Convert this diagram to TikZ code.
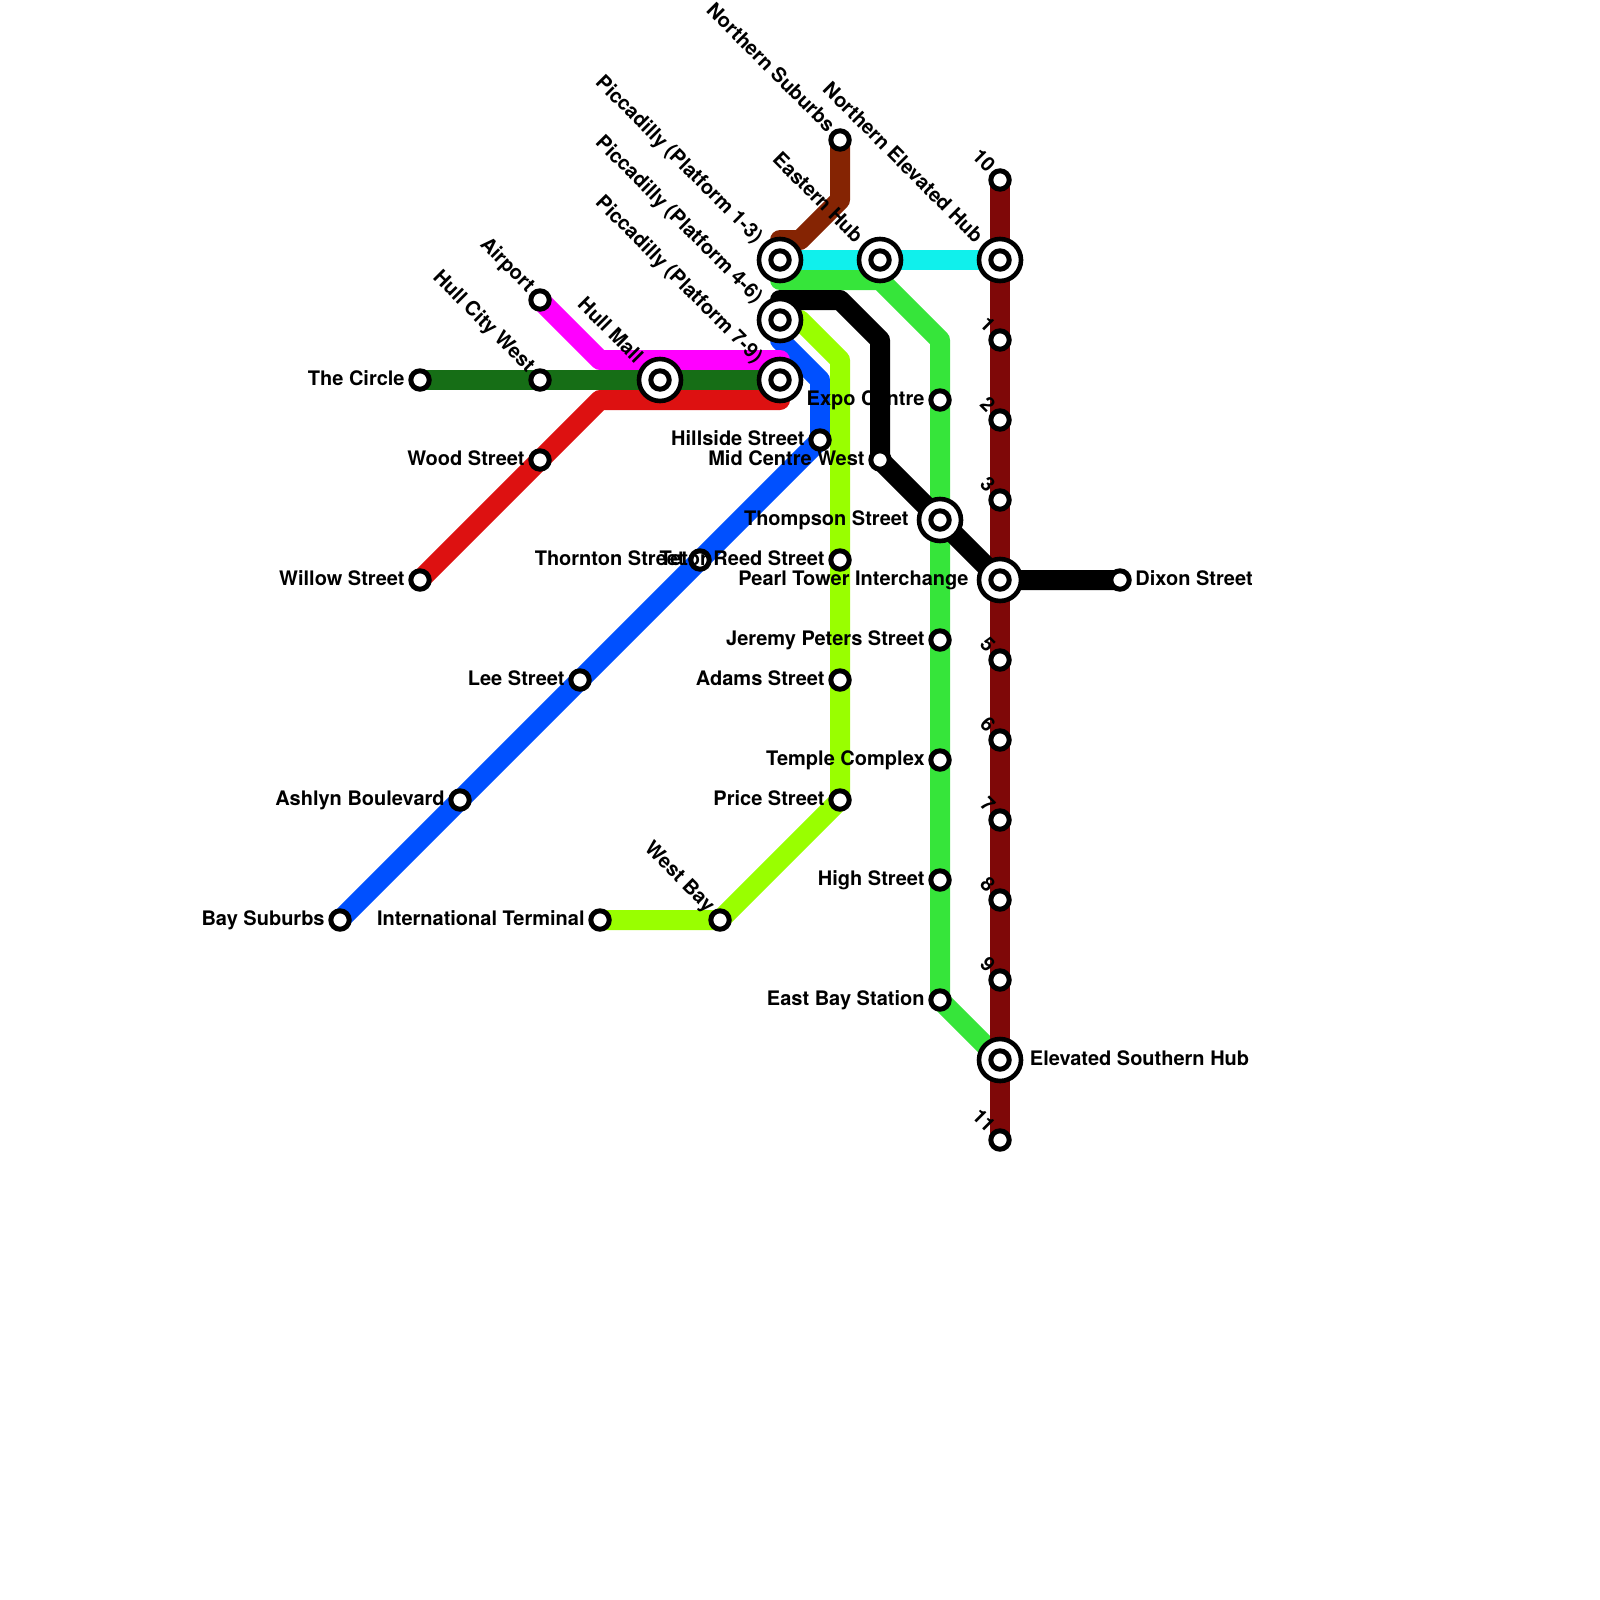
\documentclass[tikz,border=0pt]{standalone}
\usepackage{fontspec}
\setmainfont{TeX Gyre Heros}
\usepackage{xcolor}
\usetikzlibrary{positioning, backgrounds}

\definecolor{tubebrown}{HTML}{852403}
\definecolor{tubecyan}{HTML}{10F0EC}
\definecolor{tubegreen}{HTML}{36E53A}
\definecolor{tubeforest}{HTML}{166E16}
\definecolor{tubered}{HTML}{DD1111}
\definecolor{tubemagenta}{HTML}{FF00FF}
\definecolor{tubeblue}{HTML}{0050FF}
\definecolor{tubelime}{HTML}{99FF00}
\definecolor{tubemaroon}{HTML}{7F0808}

\begin{document}
\begin{tikzpicture}[
    on grid,
    font=\fontsize{20}{24}\selectfont\bfseries,
    stop/.style={draw=black, fill=white, circle, inner sep=0pt, minimum size=18.4pt, line width=5pt},
    ring/.style={draw=black, fill=white, circle, inner sep=0pt, minimum size=42pt, line width=4.6pt},
    tube/.style={line width=20pt, line cap=round, line join=round},
    sidelab/.style={on grid=false, inner sep=0pt, text height=14.4pt, text depth=0pt, yshift=2pt},
    slant/.style={xshift=-8pt, yshift=12pt, rotate=-45, anchor=east, inner sep=0pt, text height=14.4pt, text depth=0pt},
    hubslant/.style={xshift=-20pt, yshift=21pt, rotate=-45, anchor=east, inner sep=0pt, text height=14.4pt, text depth=0pt}
]
    \useasboundingbox (0pt,0pt) rectangle (1600pt,-1600pt);

    % Interchanges
    \node[stop] (picone) at (780pt,-260pt) {};
    \node[stop, right=100pt of picone] (eastern) {};
    \node[stop, right=120pt of eastern] (nelev) {};
    \node[stop, below=60pt of picone] (pictwo) {};
    \node[stop, below=60pt of pictwo] (picthree) {};
    \node[stop, left=120pt of picthree] (hullmall) {};

    % West end
    \node[stop, left=120pt of hullmall] (hullcity) {};
    \node[stop, left=120pt of hullcity] (circle) {};
    \node[stop, above=80pt of hullcity] (airport) {};
    \node[stop, below=80pt of hullcity] (wood) {};
    \node[stop, below=200pt of circle] (willow) {};
    \node[stop, above right=120pt and 60pt of picone] (nsub) {};

    % Maroon line
    \node[stop, above=80pt of nelev] (ten) {};
    \node[stop, below=80pt of nelev] (one) {};
    \node[stop, below=80pt of one] (two) {};
    \node[stop, below=80pt of two] (three) {};
    \node[stop, below=80pt of three] (pearl) {};
    \node[stop, below=80pt of pearl] (five) {};
    \node[stop, below=80pt of five] (six) {};
    \node[stop, below=80pt of six] (seven) {};
    \node[stop, below=80pt of seven] (eight) {};
    \node[stop, below=80pt of eight] (nine) {};
    \node[stop, below=80pt of nine] (esouth) {};
    \node[stop, below=80pt of esouth] (eleven) {};
    \node[stop, right=120pt of pearl] (dixon) {};

    % Green and black lines
    \node[stop, above left=60pt and 60pt of pearl] (thompson) {};
    \node[stop, above=120pt of thompson] (expo) {};
    \node[stop, below=120pt of thompson] (jeremy) {};
    \node[stop, below=120pt of jeremy] (temple) {};
    \node[stop, below=120pt of temple] (high) {};
    \node[stop, below=120pt of high] (eastbay) {};
    \node[stop, above left=60pt and 60pt of thompson] (midwest) {};

    % Blue line
    \node[stop, above left=20pt and 60pt of midwest] (hillside) {};
    \node[stop, below left=120pt and 120pt of hillside] (thornton) {};
    \node[stop, below left=120pt and 120pt of thornton] (lee) {};
    \node[stop, below left=120pt and 120pt of lee] (ashlyn) {};
    \node[stop, below left=120pt and 120pt of ashlyn] (bay) {};

    % Lime line
    \node[stop, right=140pt of thornton] (tetor) {};
    \node[stop, below=120pt of tetor] (adams) {};
    \node[stop, below=120pt of adams] (price) {};
    \node[stop, below left=120pt and 120pt of price] (westbay) {};
    \node[stop, left=120pt of westbay] (intl) {};

    % Bends
    \coordinate[above=20pt of picone] (brownstart);
    \coordinate[above right=20pt and 20pt of picone] (brownbend);
    \coordinate[below=60pt of nsub] (brownknee);
    \coordinate[below=20pt of picone] (greenstart);
    \coordinate[below=20pt of eastern] (greenbend);
    \coordinate[above=60pt of expo] (greenknee);
    \coordinate[below=40pt of picone] (blackstart);
    \coordinate[above right=20pt and 60pt of pictwo] (blackbend);
    \coordinate[above=120pt of midwest] (blackknee);
    \coordinate[right=20pt of pictwo] (limebend);
    \coordinate[above=200pt of tetor] (limeknee);
    \coordinate[below=20pt of pictwo] (bluestart);
    \coordinate[above=60pt of hillside] (blueknee);
    \coordinate[above right=20pt and 60pt of hullcity] (magentabend);
    \coordinate[above=20pt of picthree] (magentaend);
    \coordinate[below right=20pt and 60pt of hullcity] (redbend);
    \coordinate[below=20pt of picthree] (redend);

    \begin{scope}[on background layer]
        \draw[tube, tubeblue] (bluestart) -- (blueknee) -- (hillside.center) -- (bay.center);
        \draw[tube, tubelime] (pictwo.center) -- (limebend) -- (limeknee) -- (price.center) -- (westbay.center) -- (intl.center);
        \draw[tube, tubemagenta] (airport.center) -- (magentabend) -- (magentaend);
        \draw[tube, tubered] (willow.center) -- (redbend) -- (redend);
        \draw[tube, tubeforest] (circle.center) -- (picthree.center);
        \draw[tube, tubecyan] (picone.center) -- (nelev.center);
        \draw[tube, tubebrown] (brownstart) -- (brownbend) -- (brownknee) -- (nsub.center);
        \draw[tube, tubegreen] (greenstart) -- (greenbend) -- (greenknee) -- (eastbay.center) -- (esouth.center);
        \draw[tube, tubemaroon] (ten.center) -- (eleven.center);
        \draw[tube, black] (blackstart) -- (blackbend) -- (blackknee) -- (midwest.center) -- (pearl.center) -- (dixon.center);
        % Outer rings of the interchanges
        \foreach \hubname/\ringname in {picone/ringa, eastern/ringb, nelev/ringc, pictwo/ringd, picthree/ringe, hullmall/ringf, thompson/ringg, pearl/ringh, esouth/ringi}
            \node[ring] (\ringname) at (\hubname) {};
    \end{scope}

    % Labels
    \foreach \stopname/\stoptext in {circle/The Circle, wood/Wood Street, willow/Willow Street, hillside/Hillside Street, midwest/Mid Centre West, thornton/Thornton Street, lee/Lee Street, ashlyn/Ashlyn Boulevard, bay/Bay Suburbs, intl/International Terminal, tetor/Tetor Reed Street, adams/Adams Street, price/Price Street, expo/Expo Centre, jeremy/Jeremy Peters Street, temple/Temple Complex, high/High Street, eastbay/East Bay Station}
        \node[sidelab, left=3.5pt of \stopname] (\stopname lab) {\stoptext};
    \node[sidelab, right=3.5pt of dixon] (dixonlab) {Dixon Street};
    \node[sidelab, left=19.5pt of thompson] (thompsonlab) {Thompson Street};
    \node[sidelab, left=19.5pt of pearl] (pearllab) {Pearl Tower Interchange};
    \node[sidelab, right=18pt of esouth] (esouthlab) {Elevated Southern Hub};

    \foreach \stopname/\stoptext in {airport/Airport, hullcity/Hull City West, nsub/Northern Suburbs, westbay/West Bay, ten/10, one/1, two/2, three/3, five/5, six/6, seven/7, eight/8, nine/9, eleven/11}
        \node[slant] (\stopname lab) at (\stopname) {\stoptext};
    \foreach \stopname/\stoptext in {picone/Piccadilly (Platform 1-3), pictwo/Piccadilly (Platform 4-6), picthree/Piccadilly (Platform 7-9), hullmall/Hull Mall, eastern/Eastern Hub, nelev/Northern Elevated Hub}
        \node[hubslant] (\stopname lab) at (\stopname) {\stoptext};
\end{tikzpicture}
\end{document}
